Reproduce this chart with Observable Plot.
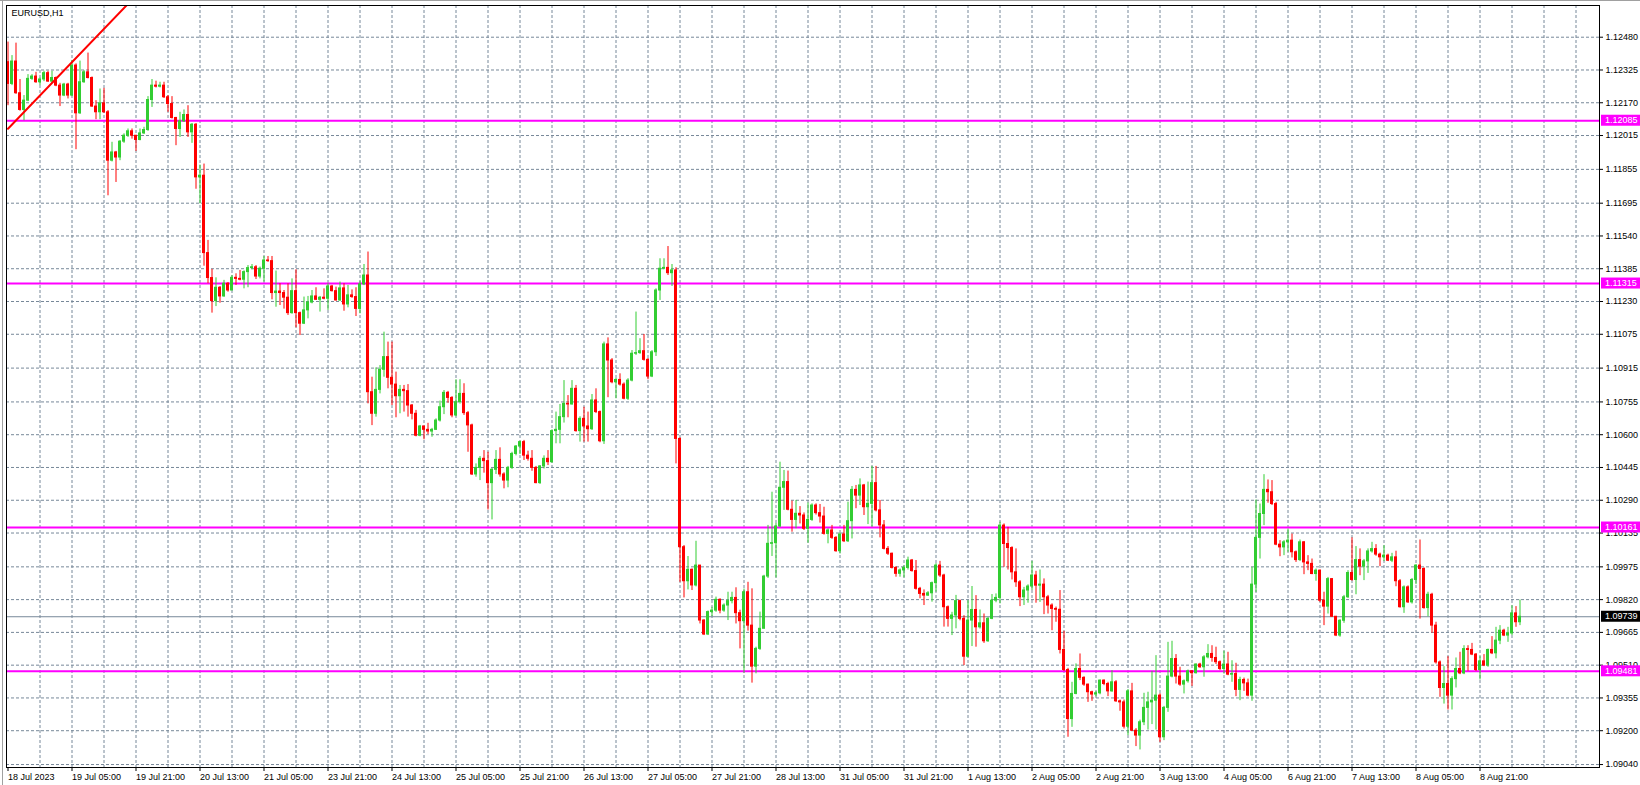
<!DOCTYPE html>
<html><head><meta charset="utf-8">
<script src="https://cdn.jsdelivr.net/npm/d3@7"></script>
<script src="https://cdn.jsdelivr.net/npm/@observablehq/plot@0.6"></script>
<style>body{margin:0;background:#fff;} svg{display:block}</style>
</head><body><div id="chart"></div>
<script>
const symbolTitle = "EURUSD,H1";

const opens = [1.12362,
1.12259,1.12365,1.12215,1.12136,1.12180,1.12283,1.12294,1.12267,1.12280,1.12310,
1.12270,1.12287,1.12251,1.12204,1.12256,1.12204,1.12346,1.12120,1.12267,1.12314,
1.12287,1.12152,1.12125,1.12167,1.12125,1.11896,1.11935,1.11911,1.11986,1.12014,
1.12035,1.12014,1.11994,1.12025,1.12041,1.12183,1.12251,1.12246,1.12251,1.12196,
1.12164,1.12098,1.12046,1.12082,1.12112,1.12030,1.12066,1.11817,1.11825,1.11459,
1.11341,1.11232,1.11295,1.11254,1.11314,1.11282,1.11342,1.11337,1.11333,1.11369,
1.11388,1.11392,1.11348,1.11385,1.11424,1.11421,1.11270,1.11277,1.11270,1.11248,
1.11175,1.11279,1.11175,1.11125,1.11188,1.11225,1.11254,1.11238,1.11248,1.11243,
1.11301,1.11279,1.11235,1.11292,1.11216,1.11259,1.11251,1.11195,1.11311,1.11353,
1.10801,1.10699,1.10812,1.10907,1.10967,1.10869,1.10837,1.10782,1.10812,1.10806,
1.10738,1.10699,1.10595,1.10639,1.10623,1.10615,1.10623,1.10667,1.10730,1.10798,
1.10774,1.10691,1.10754,1.10793,1.10702,1.10644,1.10412,1.10443,1.10486,1.10475,
1.10371,1.10434,1.10481,1.10412,1.10383,1.10443,1.10509,1.10544,1.10565,1.10501,
1.10486,1.10443,1.10371,1.10450,1.10486,1.10470,1.10617,1.10623,1.10683,1.10746,
1.10743,1.10817,1.10617,1.10675,1.10639,1.10626,1.10762,1.10707,1.10569,1.11027,
1.10951,1.10848,1.10859,1.10837,1.10770,1.10856,1.10983,1.10986,1.10995,1.10954,
1.10875,1.10990,1.11282,1.11385,1.11389,1.11364,1.11377,1.10580,1.10068,1.09907,
1.09961,1.09887,1.09981,1.09721,1.09655,1.09761,1.09768,1.09819,1.09768,1.09792,
1.09813,1.09828,1.09756,1.09718,1.09855,1.09697,1.09503,1.09587,1.09682,1.09929,
1.10084,1.10087,1.10166,1.10349,1.10376,1.10245,1.10197,1.10226,1.10218,1.10155,
1.10197,1.10265,1.10229,1.10213,1.10131,1.10147,1.10112,1.10049,1.10128,1.10096,
1.10191,1.10339,1.10312,1.10360,1.10257,1.10273,1.10371,1.10242,1.10171,1.10060,
1.10037,1.09970,1.09942,1.09958,1.09970,1.10005,1.09955,1.09871,1.09847,1.09839,
1.09850,1.09898,1.09981,1.09934,1.09784,1.09729,1.09745,1.09813,1.09729,1.09550,
1.09721,1.09771,1.09689,1.09708,1.09623,1.09729,1.09815,1.09828,1.10170,1.10083,
1.10064,1.09949,1.09902,1.09831,1.09863,1.09882,1.09934,1.09886,1.09891,1.09831,
1.09792,1.09776,1.09772,1.09582,1.09487,1.09255,1.09374,1.09492,1.09450,1.09418,
1.09382,1.09371,1.09377,1.09437,1.09421,1.09386,1.09429,1.09339,1.09334,1.09219,
1.09386,1.09200,1.09177,1.09240,1.09308,1.09334,1.09342,1.09366,1.09169,1.09308,
1.09456,1.09539,1.09456,1.09418,1.09434,1.09481,1.09472,1.09513,1.09500,1.09547,
1.09563,1.09544,1.09524,1.09492,1.09513,1.09465,1.09468,1.09393,1.09440,1.09424,
1.09366,1.09891,1.10112,1.10225,1.10339,1.10328,1.10272,1.10080,1.10067,1.10091,
1.10099,1.10044,1.10007,1.10091,1.09996,1.09989,1.09941,1.09957,1.09815,1.09787,
1.09917,1.09739,1.09650,1.09720,1.09831,1.09946,1.09913,1.10007,1.09976,1.10001,
1.10048,1.10059,1.10033,1.10020,1.10028,1.10004,1.10020,1.09907,1.09784,1.09878,
1.09807,1.09913,1.09981,1.09965,1.09780,1.09843,1.09697,1.09523,1.09402,1.09421,
1.09366,1.09444,1.09492,1.09471,1.09586,1.09582,1.09560,1.09487,1.09528,
1.09508,1.09582,1.09566,1.09626,1.09673,1.09650,1.09660,1.09755,1.09713];

const closes = [
1.12259,1.12365,1.12215,1.12136,1.12180,1.12283,1.12294,1.12267,1.12280,1.12310,
1.12270,1.12287,1.12251,1.12204,1.12256,1.12204,1.12346,1.12120,1.12267,1.12314,
1.12287,1.12152,1.12125,1.12167,1.12125,1.11896,1.11935,1.11911,1.11986,1.12014,
1.12035,1.12014,1.11994,1.12025,1.12041,1.12183,1.12251,1.12246,1.12251,1.12196,
1.12164,1.12098,1.12046,1.12082,1.12112,1.12030,1.12066,1.11817,1.11825,1.11459,
1.11341,1.11232,1.11295,1.11254,1.11314,1.11282,1.11342,1.11337,1.11333,1.11369,
1.11388,1.11392,1.11348,1.11385,1.11424,1.11421,1.11270,1.11277,1.11270,1.11248,
1.11175,1.11279,1.11175,1.11125,1.11188,1.11225,1.11254,1.11238,1.11248,1.11243,
1.11301,1.11279,1.11235,1.11292,1.11216,1.11259,1.11251,1.11195,1.11311,1.11353,
1.10801,1.10699,1.10812,1.10907,1.10967,1.10869,1.10837,1.10782,1.10812,1.10806,
1.10738,1.10699,1.10595,1.10639,1.10623,1.10615,1.10623,1.10667,1.10730,1.10798,
1.10774,1.10691,1.10754,1.10793,1.10702,1.10644,1.10412,1.10443,1.10486,1.10475,
1.10371,1.10434,1.10481,1.10412,1.10383,1.10443,1.10509,1.10544,1.10565,1.10501,
1.10486,1.10443,1.10371,1.10450,1.10486,1.10470,1.10617,1.10623,1.10683,1.10746,
1.10743,1.10817,1.10617,1.10675,1.10639,1.10626,1.10762,1.10707,1.10569,1.11027,
1.10951,1.10848,1.10859,1.10837,1.10770,1.10856,1.10983,1.10986,1.10995,1.10954,
1.10875,1.10990,1.11282,1.11385,1.11389,1.11364,1.11377,1.10580,1.10068,1.09907,
1.09961,1.09887,1.09981,1.09721,1.09655,1.09761,1.09768,1.09819,1.09768,1.09792,
1.09813,1.09828,1.09756,1.09718,1.09855,1.09697,1.09503,1.09587,1.09682,1.09929,
1.10084,1.10087,1.10166,1.10349,1.10376,1.10245,1.10197,1.10226,1.10218,1.10155,
1.10197,1.10265,1.10229,1.10213,1.10131,1.10147,1.10112,1.10049,1.10128,1.10096,
1.10191,1.10339,1.10312,1.10360,1.10257,1.10273,1.10371,1.10242,1.10171,1.10060,
1.10037,1.09970,1.09942,1.09958,1.09970,1.10005,1.09955,1.09871,1.09847,1.09839,
1.09850,1.09898,1.09981,1.09934,1.09784,1.09729,1.09745,1.09813,1.09729,1.09550,
1.09721,1.09771,1.09689,1.09708,1.09623,1.09729,1.09815,1.09828,1.10170,1.10083,
1.10064,1.09949,1.09902,1.09831,1.09863,1.09882,1.09934,1.09886,1.09891,1.09831,
1.09792,1.09776,1.09772,1.09582,1.09487,1.09255,1.09374,1.09492,1.09450,1.09418,
1.09382,1.09371,1.09377,1.09437,1.09421,1.09386,1.09429,1.09339,1.09334,1.09219,
1.09386,1.09200,1.09177,1.09240,1.09308,1.09334,1.09342,1.09366,1.09169,1.09308,
1.09456,1.09539,1.09456,1.09418,1.09434,1.09481,1.09472,1.09513,1.09500,1.09547,
1.09563,1.09544,1.09524,1.09492,1.09513,1.09465,1.09468,1.09393,1.09440,1.09424,
1.09366,1.09891,1.10112,1.10225,1.10339,1.10328,1.10272,1.10080,1.10067,1.10091,
1.10099,1.10044,1.10007,1.10091,1.09996,1.09989,1.09941,1.09957,1.09815,1.09787,
1.09917,1.09739,1.09650,1.09720,1.09831,1.09946,1.09913,1.10007,1.09976,1.10001,
1.10048,1.10059,1.10033,1.10020,1.10028,1.10004,1.10020,1.09907,1.09784,1.09878,
1.09807,1.09913,1.09981,1.09965,1.09780,1.09843,1.09697,1.09523,1.09402,1.09421,
1.09366,1.09444,1.09492,1.09471,1.09586,1.09582,1.09560,1.09487,1.09528,1.09508,
1.09582,1.09566,1.09626,1.09673,1.09650,1.09660,1.09755,1.09713,1.09739];

const highs = [
1.12457,1.12393,1.12452,1.12280,1.12204,1.12303,1.12303,1.12314,1.12287,1.12319,
1.12319,1.12319,1.12292,1.12262,1.12262,1.12262,1.12370,1.12354,1.12367,1.12322,
1.12405,1.12292,1.12180,1.12235,1.12238,1.12133,1.11983,1.11940,1.11991,1.12023,
1.12046,1.12046,1.11998,1.12046,1.12054,1.12199,1.12280,1.12272,1.12267,1.12267,
1.12204,1.12199,1.12101,1.12125,1.12136,1.12156,1.12072,1.12072,1.11875,1.11880,
1.11519,1.11382,1.11342,1.11301,1.11330,1.11320,1.11353,1.11361,1.11377,1.11375,
1.11400,1.11405,1.11400,1.11393,1.11443,1.11443,1.11443,1.11374,1.11314,1.11282,
1.11314,1.11337,1.11380,1.11180,1.11251,1.11254,1.11282,1.11295,1.11254,1.11290,
1.11314,1.11306,1.11298,1.11322,1.11314,1.11306,1.11285,1.11295,1.11326,1.11405,
1.11464,1.10872,1.10916,1.10927,1.11085,1.11038,1.11038,1.10896,1.10833,1.10833,
1.10837,1.10743,1.10715,1.10644,1.10636,1.10654,1.10630,1.10675,1.10759,1.10809,
1.10805,1.10780,1.10860,1.10860,1.10841,1.10710,1.10650,1.10462,1.10497,1.10525,
1.10517,1.10440,1.10525,1.10538,1.10420,1.10450,1.10517,1.10549,1.10569,1.10573,
1.10522,1.10525,1.10450,1.10454,1.10500,1.10525,1.10623,1.10707,1.10743,1.10856,
1.10785,1.10856,1.10833,1.10685,1.10730,1.10707,1.10790,1.10817,1.10712,1.11038,
1.11058,1.10960,1.10866,1.10888,1.10845,1.10865,1.10998,1.11180,1.11054,1.11074,
1.10960,1.10998,1.11290,1.11432,1.11432,1.11490,1.11405,1.11390,1.10585,1.10076,
1.10024,1.09965,1.10096,1.09976,1.09725,1.09766,1.09784,1.09832,1.09824,1.09800,
1.09855,1.09855,1.09876,1.09770,1.09870,1.09902,1.09871,1.09595,1.09761,1.09935,
1.10171,1.10328,1.10180,1.10470,1.10431,1.10428,1.10286,1.10289,1.10260,1.10230,
1.10277,1.10273,1.10273,1.10270,1.10257,1.10155,1.10171,1.10118,1.10135,1.10171,
1.10281,1.10355,1.10360,1.10391,1.10365,1.10376,1.10450,1.10450,1.10289,1.10194,
1.10071,1.10040,1.09976,1.09965,1.09980,1.10021,1.10010,1.10005,1.09878,1.09866,
1.09858,1.09903,1.09990,1.10001,1.09940,1.09790,1.09760,1.09840,1.09818,1.09744,
1.09815,1.09882,1.09839,1.09771,1.09752,1.09735,1.09844,1.09847,1.10186,1.10178,
1.10162,1.10070,1.10060,1.09910,1.09878,1.09890,1.10001,1.09954,1.09960,1.09918,
1.09840,1.09800,1.09785,1.09863,1.09670,1.09495,1.09429,1.09516,1.09563,1.09455,
1.09420,1.09387,1.09385,1.09440,1.09440,1.09429,1.09484,1.09437,1.09345,1.09345,
1.09395,1.09424,1.09210,1.09250,1.09377,1.09382,1.09481,1.09555,1.09375,1.09315,
1.09618,1.09623,1.09560,1.09500,1.09440,1.09487,1.09484,1.09516,1.09519,1.09555,
1.09607,1.09602,1.09595,1.09530,1.09576,1.09571,1.09531,1.09519,1.09453,1.09449,
1.09444,1.09973,1.10291,1.10272,1.10411,1.10386,1.10383,1.10280,1.10099,1.10099,
1.10154,1.10130,1.10050,1.10102,1.10095,1.10028,1.10012,1.09965,1.09960,1.09855,
1.09925,1.09920,1.09740,1.09725,1.09840,1.09957,1.10112,1.10071,1.10060,1.10010,
1.10060,1.10091,1.10080,1.10040,1.10075,1.10035,1.10039,1.10049,1.09915,1.09885,
1.09885,1.09920,1.09985,1.10102,1.09970,1.09855,1.09850,1.09713,1.09530,1.09503,
1.09550,1.09455,1.09544,1.09571,1.09602,1.09602,1.09613,1.09565,1.09550,1.09560,
1.09586,1.09645,1.09689,1.09697,1.09680,1.09689,1.09791,1.09787,1.09818];

const lows = [
1.12156,1.12251,1.12210,1.12130,1.12085,1.12175,1.12276,1.12262,1.12251,1.12270,
1.12267,1.12262,1.12246,1.12152,1.12199,1.12188,1.12199,1.11948,1.12115,1.12262,
1.12283,1.12148,1.12090,1.12090,1.12120,1.11730,1.11890,1.11793,1.11896,1.11978,
1.12006,1.11998,1.11940,1.11990,1.12020,1.12035,1.12148,1.12240,1.12240,1.12190,
1.12125,1.12093,1.11967,1.12006,1.12077,1.12006,1.11978,1.11761,1.11692,1.11397,
1.11314,1.11175,1.11206,1.11222,1.11250,1.11274,1.11285,1.11306,1.11328,1.11290,
1.11295,1.11380,1.11334,1.11337,1.11322,1.11415,1.11238,1.11203,1.11211,1.11194,
1.11164,1.11170,1.11106,1.11069,1.11121,1.11148,1.11219,1.11235,1.11180,1.11238,
1.11188,1.11275,1.11232,1.11230,1.11184,1.11200,1.11245,1.11159,1.11172,1.11305,
1.10746,1.10643,1.10683,1.10793,1.10872,1.10817,1.10738,1.10680,1.10699,1.10707,
1.10683,1.10670,1.10590,1.10590,1.10576,1.10601,1.10588,1.10620,1.10660,1.10695,
1.10749,1.10680,1.10685,1.10745,1.10691,1.10517,1.10407,1.10399,1.10383,1.10418,
1.10244,1.10197,1.10412,1.10399,1.10344,1.10349,1.10436,1.10500,1.10506,1.10478,
1.10475,1.10427,1.10368,1.10365,1.10438,1.10454,1.10465,1.10557,1.10557,1.10655,
1.10680,1.10740,1.10612,1.10565,1.10565,1.10565,1.10620,1.10700,1.10562,1.10554,
1.10775,1.10841,1.10770,1.10830,1.10765,1.10762,1.10850,1.10975,1.10980,1.10948,
1.10860,1.10870,1.10970,1.11235,1.11380,1.11353,1.11301,1.10462,1.09902,1.09828,
1.09866,1.09863,1.09880,1.09705,1.09650,1.09650,1.09740,1.09760,1.09753,1.09760,
1.09721,1.09800,1.09705,1.09587,1.09472,1.09671,1.09425,1.09469,1.09580,1.09690,
1.09920,1.10024,1.09923,1.10160,1.10242,1.10240,1.10139,1.10155,1.10178,1.10147,
1.10087,1.10190,1.10220,1.10182,1.10125,1.10084,1.10105,1.10044,1.10036,1.10090,
1.10090,1.10107,1.10250,1.10265,1.10218,1.10175,1.10163,1.10235,1.10112,1.10055,
1.10029,1.09965,1.09926,1.09926,1.09923,1.09960,1.09950,1.09865,1.09824,1.09792,
1.09835,1.09808,1.09855,1.09925,1.09690,1.09690,1.09650,1.09682,1.09720,1.09508,
1.09545,1.09598,1.09595,1.09681,1.09613,1.09618,1.09725,1.09805,1.09800,1.09973,
1.09960,1.09913,1.09878,1.09787,1.09792,1.09803,1.09863,1.09803,1.09807,1.09749,
1.09752,1.09673,1.09713,1.09563,1.09480,1.09169,1.09216,1.09370,1.09437,1.09410,
1.09334,1.09339,1.09360,1.09370,1.09413,1.09361,1.09382,1.09334,1.09292,1.09208,
1.09177,1.09197,1.09125,1.09109,1.09224,1.09203,1.09229,1.09203,1.09145,1.09153,
1.09287,1.09450,1.09421,1.09410,1.09374,1.09425,1.09410,1.09468,1.09495,1.09453,
1.09540,1.09524,1.09513,1.09484,1.09468,1.09460,1.09429,1.09361,1.09342,1.09386,
1.09360,1.09339,1.09854,1.10012,1.10170,1.10276,1.10265,1.10075,1.10023,1.10028,
1.10044,1.10017,1.09996,1.10000,1.09938,1.09957,1.09938,1.09907,1.09807,1.09697,
1.09752,1.09736,1.09645,1.09642,1.09708,1.09825,1.09907,1.09843,1.09933,1.09910,
1.09944,1.10040,1.10025,1.09976,1.10000,1.10000,1.09995,1.09881,1.09780,1.09755,
1.09802,1.09799,1.09891,1.09728,1.09775,1.09739,1.09661,1.09515,1.09358,1.09326,
1.09298,1.09298,1.09402,1.09465,1.09465,1.09481,1.09555,1.09480,1.09440,1.09503,
1.09500,1.09560,1.09540,1.09607,1.09645,1.09618,1.09650,1.09689,1.09697];

// y-axis tick labels (price scale)
const yTicks = [1.12480,1.12325,1.12170,1.12015,1.11855,1.11695,1.11540,1.11385,1.11230,1.11075,1.10915,1.10755,1.10600,1.10445,1.10290,1.10135,1.09975,1.09820,1.09665,1.09510,1.09355,1.09200,1.09040];
// x-axis tick labels (bar index -> label)
const xTickBars = [0,16,32,48,64,80,96,112,128,144,160,176,192,208,224,240,256,272,288,304,320,336,352,368];
const xTickLabels = ["18 Jul 2023","19 Jul 05:00","19 Jul 21:00","20 Jul 13:00","21 Jul 05:00","23 Jul 21:00","24 Jul 13:00","25 Jul 05:00","25 Jul 21:00","26 Jul 13:00","27 Jul 05:00","27 Jul 21:00","28 Jul 13:00","31 Jul 05:00","31 Jul 21:00","1 Aug 13:00","2 Aug 05:00","2 Aug 21:00","3 Aug 13:00","4 Aug 05:00","6 Aug 21:00","7 Aug 13:00","8 Aug 05:00","8 Aug 21:00"];
const gridBars = d3.range(8, 393, 8);
// horizontal levels and current price
const levels = [1.12085, 1.11315, 1.10161, 1.09481];
const lastPrice = 1.09739;
// trend line
const trendBars = [0, 32];
const trendPrices = [1.12047, 1.12677];

const bars = closes.map((c, i) => ({
  i, o: opens[i], c,
  h: Math.max(highs[i], opens[i], c),
  l: Math.min(lows[i], opens[i], c)
}));
const UP = "#32CD32", DOWN = "#FF0000";
const col = d => (d.c >= d.o ? UP : DOWN);
const trend = trendBars.map((b, k) => ({b, p: trendPrices[k]}));
const labelOf = new Map(xTickBars.map((b, k) => [b, xTickLabels[k]]));

const grid = {stroke: "#778899", strokeOpacity: 1, strokeDasharray: "3,2", strokeWidth: 1};

const chart = Plot.plot({
  width: 1640, height: 785,
  marginLeft: 6, marginRight: 41, marginTop: 5, marginBottom: 18,
  style: {fontFamily: "'Liberation Sans', Arial, sans-serif", fontSize: "9px", background: "#ffffff", color: "#000000"},
  x: {type: "linear", domain: [-0.375, 397.875]},
  y: {domain: [1.09026, 1.12630]},
  color: {type: "identity"},
  marks: [
    Plot.gridX(gridBars, grid),
    Plot.gridY(yTicks, grid),
    Plot.ruleY([lastPrice], {stroke: "#778899", strokeWidth: 1}),
    Plot.ruleY(levels, {stroke: "#FF00FF", strokeWidth: 2}),
    Plot.ruleX(bars, {x: "i", y1: "l", y2: "h", stroke: col, strokeWidth: 1}),
    Plot.rect(bars, {x1: d => d.i - 0.375, x2: d => d.i + 0.375, y1: "o", y2: "c", fill: col, insetTop: -0.5, insetBottom: -0.5}),
    Plot.line(trend, {x: "b", y: "p", stroke: "#FF0000", strokeWidth: 2, clip: true}),
    Plot.axisX(xTickBars, {tickFormat: d => labelOf.get(d), textAnchor: "start", tickSize: 4, tickPadding: 2, label: null}),
    Plot.axisY(yTicks, {anchor: "right", tickFormat: d => d.toFixed(5), tickSize: 3, tickPadding: 3, label: null}),
    Plot.frame({stroke: "#000000"}),
    Plot.text([symbolTitle], {frameAnchor: "top-left", dx: 5, dy: 4, textAnchor: "start", lineAnchor: "top", fill: "#000", fontSize: 9})
  ]
});

// price tags on the right axis (positioned through Plot's y scale)
const y = chart.scale("y");
const g = d3.select(chart).append("g")
  .attr("font-family", "'Liberation Sans', Arial, sans-serif")
  .attr("font-size", 9)
  .attr("text-anchor", "start");
const tags = levels.map(v => ({v, fill: "#FF00FF"})).concat([{v: lastPrice, fill: "#000000"}]);
for (const t of tags) {
  const py = y.apply(t.v);
  g.append("rect").attr("x", 1601).attr("y", py - 5.5).attr("width", 39).attr("height", 11).attr("fill", t.fill);
  g.append("text").attr("x", 1605).attr("y", py + 3.2).attr("fill", "#ffffff").attr("text-anchor", "start").text(t.v.toFixed(5));
}
// window border
d3.select(chart).append("line").attr("x1", 0).attr("x2", 1640).attr("y1", 0.5).attr("y2", 0.5).attr("stroke", "#a0a0a0");
d3.select(chart).append("line").attr("x1", 2.5).attr("x2", 2.5).attr("y1", 0).attr("y2", 785).attr("stroke", "#a0a0a0");

document.getElementById("chart").appendChild(chart);
</script>
</body></html>
